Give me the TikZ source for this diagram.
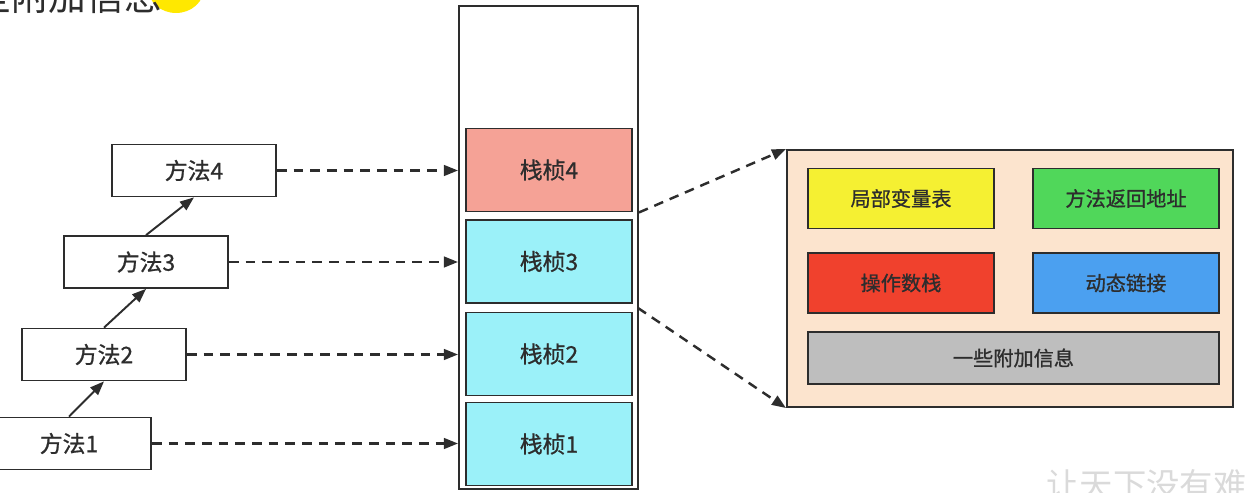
\documentclass[tikz,border=0pt]{standalone}
\usepackage{fontspec}
\setmainfont{Noto Sans CJK SC}
\newfontfamily\rotulo{Noto Sans CJK SC}[FakeBold=0.9]
\usetikzlibrary{arrows.meta,positioning}
\definecolor{linea}{RGB}{45, 45, 45}
\definecolor{cian}{RGB}{155, 241, 249}
\definecolor{salmon}{RGB}{245, 162, 150}
\definecolor{melocoton}{RGB}{252, 228, 206}
\definecolor{amarillo}{RGB}{245, 240, 50}
\definecolor{verde}{RGB}{80, 215, 90}
\definecolor{rojo}{RGB}{240, 65, 45}
\definecolor{azul}{RGB}{75, 160, 240}
\definecolor{gris}{RGB}{190, 190, 190}
\definecolor{resalte}{RGB}{255, 232, 0}
\definecolor{marca}{RGB}{218, 218, 218}

\begin{document}
\begin{tikzpicture}[x=0.02cm, y=-0.02cm,
    metodo/.style={rectangle, draw=linea, line width=1pt, fill=white,
                   minimum width=3.28cm, minimum height=1.04cm, inner sep=0pt,
                   font=\rotulo\fontsize{13}{15}\selectfont, text=linea},
    marco/.style={rectangle, draw=linea, line width=1.1pt,
                  minimum width=3.32cm, minimum height=1.66cm, inner sep=0pt,
                  font=\rotulo\fontsize{13}{15}\selectfont, text=linea},
    parte/.style={rectangle, draw=linea, line width=1.1pt,
                  minimum width=3.72cm, minimum height=1.2cm, inner sep=0pt,
                  font=\rotulo\fontsize{11.5}{14}\selectfont, text=linea},
    llamada/.style={draw=linea, line width=1.1pt, -{Triangle[length=8pt,width=6pt]}},
    enlace/.style={llamada, line width=1.4pt, dash pattern=on 5.5pt off 4pt}]
    \useasboundingbox (0,0) rectangle (1255,493);
    \clip (0,0) rectangle (1255,493);

    % resto del titulo, cortado arriba
    \fill[resalte] (176,-12) ellipse [x radius=0.56cm, y radius=0.5cm];
    \node[anchor=base west, inner sep=0pt, text=linea,
          font=\fontsize{21.5}{24}\selectfont] (titulo) at (-27,11) {些附加信息};

    % metodos invocados
    \node[metodo] (m1) at (69,443.5) {方法1};
    \node[metodo] (m2) at (104,354.5) {方法2};
    \node[metodo] (m3) at (146,262) {方法3};
    \node[metodo] (m4) at (194,170.5) {方法4};
    \draw[llamada] (m1.north) -- (m2.south);
    \draw[llamada] (m2.north) -- (m3.south);
    \draw[llamada] (m3.north) -- (m4.south);

    % pila de marcos
    \node[rectangle, draw=linea, line width=1.1pt, minimum width=3.58cm,
          minimum height=9.66cm] (pila) at (548.5,247.5) {};
    \node[marco, fill=salmon] (f4) at (549,170) {栈桢4};
    \node[marco, fill=cian] (f3) at (549,261.5) {栈桢3};
    \node[marco, fill=cian] (f2) at (549,354) {栈桢2};
    \node[marco, fill=cian] (f1) at (549,444) {栈桢1};
    \foreach \i in {1,...,4}
        \draw[enlace] (m\i.east) -- (m\i.east -| pila.west);

    % contenido de un marco
    \node[rectangle, draw=linea, line width=1.2pt, fill=melocoton,
          minimum width=8.92cm, minimum height=5.14cm] (detalle) at (1010,278.5) {};
    \node[parte, fill=amarillo] (locales) at (901,198.5) {局部变量表};
    \node[parte, fill=verde] (retorno) at (1126,198.5) {方法返回地址};
    \node[parte, fill=rojo] (operandos) at (901,283) {操作数栈};
    \node[parte, fill=azul] (dinamico) at (1126,283) {动态链接};
    \node[parte, fill=gris, minimum width=8.22cm, minimum height=1.04cm]
        (extra) at (1013.5,358) {一些附加信息};
    \coordinate (hueco) at (638,308);
    \draw[enlace] (pila.east |- f4.south) -- (detalle.north west);
    \draw[enlace] (hueco) -- (detalle.south west);

    % marca de agua
    \node[anchor=base west, inner sep=0pt, text=marca,
          font=\fontsize{19}{22}\selectfont] (marca) at (1046,497) {让天下没有难};
\end{tikzpicture}
\end{document}
